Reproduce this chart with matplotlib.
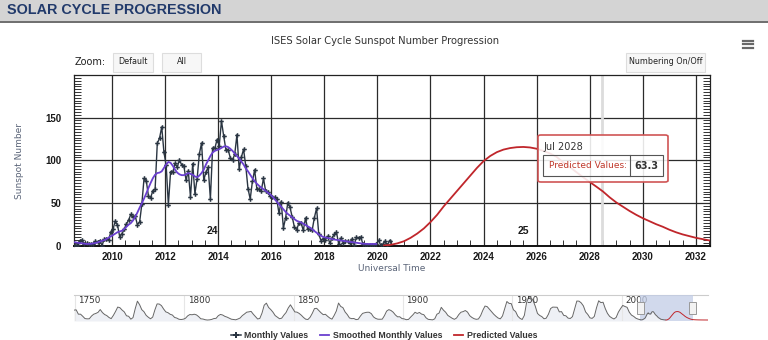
import numpy as np
import matplotlib
matplotlib.use("Agg")
import matplotlib.pyplot as plt
from matplotlib.ticker import MultipleLocator
from matplotlib.patches import Rectangle, FancyBboxPatch
from matplotlib.lines import Line2D
import matplotlib.transforms as mtransforms

W, H = 768, 340

# Monthly sunspot numbers, Jul 2008 .. Jun 2020
monthly_values = [
    0.8, 0.0, 1.1, 4.8, 6.8, 1.3,
    2.5, 2.3, 1.2, 2.0, 4.8, 4.3, 5.8, 0.0, 7.2, 8.0, 6.8, 16.0,
    19.6, 28.5, 24.0, 10.4, 13.9, 18.8, 25.2, 29.6, 36.4, 33.6, 34.4, 24.5,
    27.3, 48.3, 78.6, 76.1, 58.2, 56.1, 64.5, 65.8, 120.1, 125.7, 139.1, 109.3,
    94.4, 47.8, 86.6, 85.9, 96.5, 92.0, 100.1, 94.8, 93.7, 76.5, 87.6, 56.8,
    96.1, 60.9, 78.3, 107.3, 120.2, 76.7, 86.2, 91.8, 54.5, 114.4, 113.9, 124.2,
    117.0, 146.1, 128.7, 112.5, 112.5, 102.9, 100.2, 106.9, 130.0, 90.0, 103.6, 112.9,
    93.0, 66.7, 54.5, 75.3, 88.8, 66.5, 65.8, 64.4, 78.6, 63.6, 62.2, 58.0,
    57.0, 56.4, 54.1, 37.9, 51.5, 20.5, 32.4, 50.2, 44.6, 33.4, 21.4, 18.5,
    26.1, 26.4, 17.7, 32.3, 18.9, 19.2, 17.8, 32.6, 43.7, 13.2, 5.7, 8.2,
    6.8, 10.7, 2.5, 8.9, 13.1, 15.6, 1.6, 8.7, 3.3, 4.9, 4.9, 3.1,
    7.7, 0.8, 9.4, 9.1, 9.9, 1.2, 0.9, 0.5, 1.1, 0.4, 0.5, 1.5,
    6.2, 0.2, 1.5, 5.2, 0.2, 5.8,
]

# 13-month smoothed values, Jul 2008 .. Dec 2019
smoothed_values = [
    4.1, 3.6, 3.2, 2.9, 2.6, 2.2,
    1.8, 1.9, 2.0, 2.4, 2.9, 3.6, 4.6, 5.5, 6.3, 7.6, 9.3, 10.6,
    12.3, 14.0, 15.6, 16.5, 17.3, 19.3, 21.9, 24.4, 26.2, 29.3, 33.6, 38.7,
    44.3, 49.5, 55.0, 61.0, 67.5, 73.5, 79.0, 83.0, 85.0, 85.5, 87.0, 91.0,
    95.0, 98.0, 97.0, 93.5, 89.0, 85.5, 83.5, 82.5, 82.5, 83.5, 85.0, 84.0,
    83.0, 81.0, 80.0, 82.0, 85.0, 89.0, 95.0, 100.0, 105.0, 109.0, 111.0, 112.0,
    113.0, 114.5, 116.0, 116.4, 115.5, 113.5, 111.0, 108.0, 105.0, 102.0, 98.5, 95.0,
    90.5, 87.0, 83.0, 79.0, 75.5, 72.5, 70.0, 68.0, 66.0, 64.0, 62.0, 60.0,
    57.5, 54.5, 51.5, 48.5, 45.5, 42.5, 39.5, 37.0, 35.0, 33.0, 31.0, 29.0,
    28.0, 27.0, 25.5, 24.0, 22.5, 21.0, 19.0, 17.0, 15.0, 13.0, 11.5, 10.0,
    9.5, 8.8, 8.2, 7.6, 7.0, 6.6, 6.2, 5.9, 5.5, 5.0, 4.6, 4.3,
    4.0, 3.6, 3.2, 2.8, 2.4, 2.1, 1.9, 1.8, 1.8, 1.8, 1.8, 1.8,
]

# ISES cycle 25 prediction
pred_years = list(np.arange(2020.25, 2032.51, 0.25)) + [2033, 2034, 2035, 2036, 2037, 2038, 2039, 2039.5]
pred_values = [
    0.0, 0.8, 2.5,
    5.0, 9.0, 14.0, 20.0,
    27.5, 36.0, 46.0, 55.0,
    64.0, 73.0, 82.0, 91.0,
    99.0, 105.0, 109.5, 112.5,
    114.3, 115.3, 115.6, 115.0,
    113.5, 111.0, 108.0, 104.0,
    97.5, 92.0, 86.0, 80.0,
    74.5, 69.0, 63.3, 56.5,
    50.5, 45.5, 40.5, 36.0,
    32.0, 28.5, 25.0, 22.0,
    18.5, 15.5, 13.0, 11.0,
    9.0, 7.5, 6.0,
    4.5, 2.8, 1.8, 1.2, 0.8, 0.5, 0.3, 0.2,
]

# navigator history: yearly means 1749 .. 2008 (old scale)
history_values = [
    80.9, 83.4, 47.7, 47.8, 30.7, 12.2, 9.6, 10.2, 32.4, 47.6,
    54.0, 62.9, 85.9, 61.2, 45.1, 36.4, 20.9, 11.4, 37.8, 69.8,
    106.1, 100.8, 81.6, 66.5, 34.8, 30.6, 7.0, 19.8, 92.5, 154.4,
    125.9, 84.8, 68.1, 38.5, 22.8, 10.2, 24.1, 82.9, 132.0, 130.9,
    118.1, 89.9, 66.6, 60.0, 46.9, 41.0, 21.3, 16.0, 6.4, 4.1,
    6.8, 14.5, 34.0, 45.0, 43.1, 47.5, 42.2, 28.1, 10.1, 8.1,
    2.5, 0.0, 1.4, 5.0, 12.2, 13.9, 35.4, 45.8, 41.0, 30.1,
    23.9, 15.6, 6.6, 4.0, 1.8, 8.5, 16.6, 36.3, 49.6, 64.2,
    67.0, 70.9, 47.8, 27.5, 8.5, 13.2, 56.9, 121.5, 138.3, 103.2,
    85.7, 64.6, 36.7, 24.2, 10.7, 15.0, 40.1, 61.5, 98.5, 124.7,
    96.3, 66.6, 64.5, 54.1, 39.0, 20.6, 6.7, 4.3, 22.7, 54.8,
    93.8, 95.8, 77.2, 59.1, 44.0, 47.0, 30.5, 16.3, 7.3, 37.6,
    74.0, 139.0, 111.2, 101.6, 66.2, 44.7, 17.0, 11.3, 12.4, 3.4,
    6.0, 32.3, 54.3, 59.7, 63.7, 63.5, 52.2, 25.4, 13.1, 6.8,
    6.3, 7.1, 35.6, 73.0, 85.1, 78.0, 64.0, 41.8, 26.2, 26.7,
    12.1, 9.5, 2.7, 5.0, 24.4, 42.0, 63.5, 53.8, 62.0, 48.5,
    43.9, 18.6, 5.7, 3.6, 1.4, 9.6, 47.4, 57.1, 103.9, 80.6,
    63.6, 37.6, 26.1, 14.2, 5.8, 16.7, 44.3, 63.9, 69.0, 77.8,
    64.9, 35.7, 21.2, 11.1, 5.7, 8.7, 36.1, 79.7, 114.4, 109.6,
    88.8, 67.8, 47.5, 30.6, 16.3, 9.6, 33.2, 92.6, 151.6, 136.3,
    134.7, 83.9, 69.4, 31.5, 13.9, 4.4, 38.0, 141.7, 190.2, 184.8,
    159.0, 112.3, 53.9, 37.6, 27.9, 10.2, 15.1, 47.0, 93.8, 105.9,
    105.5, 104.5, 66.6, 68.9, 38.0, 34.5, 15.5, 12.6, 27.5, 92.5,
    155.4, 154.6, 140.4, 115.9, 66.6, 45.9, 17.9, 13.4, 29.4, 100.2,
    157.6, 142.6, 145.7, 94.3, 54.6, 29.9, 17.5, 8.6, 21.5, 64.3,
    93.3, 119.6, 111.0, 104.0, 63.7, 40.4, 29.8, 15.2, 7.5, 2.9,
]

x_ticks = list(range(2010, 2033, 2))
y_ticks = [0, 50, 100, 150]
nav_ticks = [1750, 1800, 1850, 1900, 1950, 2000]

monthly_years = 2008 + 6.5 / 12 + np.arange(len(monthly_values)) / 12
smoothed_years = 2008 + 6.5 / 12 + np.arange(len(smoothed_values)) / 12
history_years = 1749.5 + np.arange(len(history_values))

plt.rcParams["font.family"] = ["Liberation Sans", "DejaVu Sans"]

fig = plt.figure(figsize=(W / 100, H / 100), dpi=100)
fig.patch.set_facecolor("white")


def fx(x):
    return x / W


def fy(y):
    return 1 - y / H


def fig_rect(x0, y0, x1, y1, **kw):
    r = Rectangle((fx(x0), fy(y1)), (x1 - x0) / W, (y1 - y0) / H,
                  transform=fig.transFigure, **kw)
    fig.add_artist(r)
    return r


# header bar
fig_rect(0, 0, W, 21, facecolor="#d4d4d4", edgecolor="none")
fig.add_artist(Line2D([0, 1], [fy(21.5), fy(21.5)], color="#555555", lw=1.2,
                      transform=fig.transFigure))
fig.text(fx(7), fy(10.5), "SOLAR CYCLE PROGRESSION", fontsize=10.4, fontweight="bold",
         color="#213a6b", va="center", ha="left")

# chart title and controls
fig.text(fx(385), fy(41), "ISES Solar Cycle Sunspot Number Progression", fontsize=7.2,
         color="#333333", ha="center", va="center", family="DejaVu Sans")
fig.text(fx(75), fy(62), "Zoom:", fontsize=7, color="#222222", va="center", family="DejaVu Sans")
for (x0, x1, label) in [(113, 153, "Default"), (162, 201, "All"), (626, 705, "Numbering On/Off")]:
    fig_rect(x0, 53, x1, 72, facecolor="#f7f7f7", edgecolor="#dddddd", lw=0.8)
    fig.text(fx((x0 + x1) / 2), fy(61.5), label, fontsize=5.8, color="#222222",
             ha="center", va="center", family="DejaVu Sans")
for yy in (40.5, 44, 47.5):
    fig.add_artist(Line2D([fx(743), fx(753)], [fy(yy), fy(yy)], color="#666666", lw=1.6,
                          transform=fig.transFigure))

# main chart
ax = fig.add_axes([74 / W, 1 - 245.5 / H, (710 - 74) / W, (245.5 - 75) / H])
ax.set_xlim(2008.57, 2032.53)
ax.set_ylim(0, 200)
ax.set_xticks(x_ticks)
ax.set_yticks(y_ticks)
ax.xaxis.set_minor_locator(MultipleLocator(0.5))
ax.yaxis.set_minor_locator(MultipleLocator(10 / 3))
ax.grid(which="major", color="#2b2b2b", lw=0.9)
ax.set_axisbelow(True)
ax.tick_params(which="major", length=0, labelsize=7, pad=5, labelcolor="#1a1a1a")
ax.tick_params(axis="y", which="major", pad=9)
ax.tick_params(which="minor", direction="in", length=4, width=0.7, color="#333333")
ax.tick_params(axis="y", which="minor", left=True, right=True, length=5)
for lab in ax.get_xticklabels() + ax.get_yticklabels():
    lab.set_fontweight("bold")
for side in ("left", "right", "top"):
    ax.spines[side].set_color("#222222")
    ax.spines[side].set_linewidth(0.9)
ax.spines["bottom"].set_color("#111111")
ax.spines["bottom"].set_linewidth(1.4)

ax.axvline(2028.46, color="#dcdcdc", lw=2, zorder=1.5)

ax.plot(monthly_years, monthly_values, color="#2a3542", lw=1.0, marker="P",
        markersize=3.3, markeredgewidth=0, zorder=3)
ax.plot(smoothed_years, smoothed_values, color="#6a3fcf", lw=1.3, zorder=4)
ax.plot(pred_years, pred_values, color="#c0262b", lw=1.3, zorder=4)

ax.text(2013.8, 17, "24", fontsize=7.5, fontweight="bold", ha="center", va="center", color="#1a1a1a")
ax.text(2025.5, 17, "25", fontsize=7.5, fontweight="bold", ha="center", va="center", color="#1a1a1a")

fig.text(fx(20), fy(161), "Sunspot Number", rotation=90, fontsize=6.5, color="#5a6478",
         ha="center", va="center", family="DejaVu Sans")
fig.text(fx(392), fy(268.5), "Universal Time", fontsize=6.5, color="#5a6478",
         ha="center", va="center", family="DejaVu Sans")

# tooltip
tip = FancyBboxPatch((fx(538), fy(182)), 130 / W, 47 / H,
                     boxstyle="round,pad=0,rounding_size=0.004",
                     transform=fig.transFigure, facecolor=(1, 1, 1, 0.88),
                     edgecolor="#d05555", lw=1.2, zorder=10)
fig.add_artist(tip)
fig_rect(543, 155, 663, 176, facecolor="none", edgecolor="#555555", lw=0.8, zorder=11)
fig.add_artist(Line2D([fx(630), fx(630)], [fy(155), fy(176)], color="#555555", lw=0.8,
                      transform=fig.transFigure, zorder=11))
fig.text(fx(543), fy(147), "Jul 2028", fontsize=7, color="#333333", va="center",
         family="DejaVu Sans", zorder=12)
fig.text(fx(549), fy(165.5), "Predicted Values:", fontsize=6.5, color="#c0392b", va="center",
         family="DejaVu Sans", zorder=12)
fig.text(fx(646.5), fy(165.5), "63.3", fontsize=7, color="#333333", va="center", ha="center",
         fontweight="bold", family="DejaVu Sans", zorder=12)

# navigator
nav = fig.add_axes([74 / W, 1 - 321 / H, (708 - 74) / W, 26 / H])
nav.set_xlim(1749.5, 2039.5)
nav.set_ylim(-8, 205)
nav.fill_between(history_years, -8, history_values, color="#eef0f5", lw=0)
nav.plot(history_years, history_values, color="#666666", lw=0.7)
nav2 = nav.twinx()
nav2.set_ylim(-8 / 0.6, 205 / 0.6)
nav2.fill_between(smoothed_years, -8 / 0.6, smoothed_values, color="#eef0f5", lw=0)
nav2.plot(smoothed_years, smoothed_values, color="#666666", lw=0.7)
nav2.plot(pred_years, pred_values, color="#c0262b", lw=0.7)
nav2.set_yticks([])
for a in (nav, nav2):
    for s in a.spines.values():
        s.set_visible(False)
nav.spines["top"].set_visible(True)
nav.spines["top"].set_color("#cccccc")
nav.spines["top"].set_linewidth(0.8)
nav.set_yticks([])
nav.set_xticks(nav_ticks)
nav.tick_params(length=0, labelbottom=False)
nav.grid(axis="x", color="#e6e6e6", lw=0.8)
for t in nav_ticks:
    nav.text(t + 1.5, 200, str(t), fontsize=6.3, color="#333333", va="top", ha="left",
             family="DejaVu Sans")
nav.axvspan(2008.57, 2032.53, color="#c2cde6", alpha=0.75, lw=0, zorder=5)
blend = mtransforms.blended_transform_factory(nav.transData, nav.transAxes)
for xe in (2008.57, 2032.53):
    nav.add_patch(Rectangle((xe - 1.5, 0.27), 3.0, 0.46, transform=blend,
                            facecolor="#f2f2f2", edgecolor="#999999", lw=0.7, zorder=6,
                            clip_on=False))

# legend
handles = [
    Line2D([], [], color="#2a3542", lw=1.1, marker="P", markersize=4, markeredgewidth=0),
    Line2D([], [], color="#6a3fcf", lw=1.3),
    Line2D([], [], color="#c0262b", lw=1.3),
]
labels = ["Monthly Values", "Smoothed Monthly Values", "Predicted Values"]
leg = fig.legend(handles, labels, loc="center", bbox_to_anchor=(fx(384), fy(335.5)), ncol=3,
                 frameon=False, fontsize=6.3, handlelength=1.1, handletextpad=0.4,
                 columnspacing=1.3, borderpad=0)
for t in leg.get_texts():
    t.set_fontweight("bold")
    t.set_color("#333333")

fig.savefig("out.png", dpi=100)
